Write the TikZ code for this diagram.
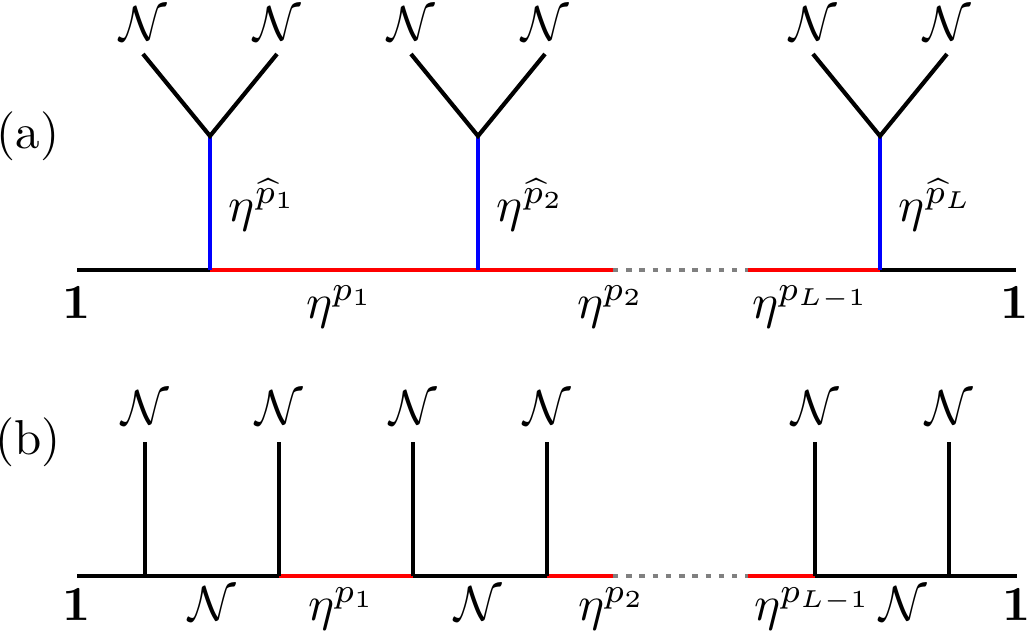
\documentclass[tikz,border=0pt]{standalone}
\usepackage{amsmath,amssymb}
\begin{document}
\begin{tikzpicture}[x=0.2041pt,y=-0.2041pt,
  ln/.style={line width=0.85pt},
  blk/.style={ln,black},
  redl/.style={ln,red},
  bluel/.style={ln,blue},
  dotl/.style={ln,gray,dash pattern=on 1.1pt off 1.6pt},
  lab/.style={inner sep=0pt,anchor=base}]
\useasboundingbox (0,0) rectangle (1027,640);

% ---------- (a) ----------
\node[lab] (la) at (28,148) {(a)};
\coordinate (a0) at (77,270);
\coordinate (a1) at (210,270);
\coordinate (a2) at (478,270);
\coordinate (a3) at (613,270);
\coordinate (a4) at (748,270);
\coordinate (a5) at (880,270);
\coordinate (a6) at (1016,270);
\coordinate (v1) at (210,136);
\coordinate (v2) at (478,136);
\coordinate (v3) at (880,136);
\coordinate (l1) at (143,54);
\coordinate (r1) at (277,54);
\coordinate (l2) at (411,54);
\coordinate (r2) at (545,54);
\coordinate (l3) at (813,54);
\coordinate (r3) at (947,54);

\draw[blk] (a0) -- (a1);
\draw[redl] (a1) -- (a2);
\draw[redl] (a2) -- (a3);
\draw[dotl] (a3) -- (a4);
\draw[redl] (a4) -- (a5);
\draw[blk] (a5) -- (a6);
\draw[bluel] (a1) -- (v1);
\draw[bluel] (a2) -- (v2);
\draw[bluel] (a5) -- (v3);
\draw[blk] (l1) -- (v1) -- (r1);
\draw[blk] (l2) -- (v2) -- (r2);
\draw[blk] (l3) -- (v3) -- (r3);

\node[lab] (nl1) at (143,40) {$\mathcal{N}$};
\node[lab] (nr1) at (277,40) {$\mathcal{N}$};
\node[lab] (nl2) at (411,40) {$\mathcal{N}$};
\node[lab] (nr2) at (545,40) {$\mathcal{N}$};
\node[lab] (nl3) at (813,40) {$\mathcal{N}$};
\node[lab] (nr3) at (947,40) {$\mathcal{N}$};

\node[inner sep=0pt,anchor=base west] (h1) at (228,221) {$\eta^{\widehat{p}_1}$};
\node[inner sep=0pt,anchor=base west] (h2) at (496,221) {$\eta^{\widehat{p}_2}$};
\node[inner sep=0pt,anchor=base west] (h3) at (898,221) {$\eta^{\widehat{p}_L}$};

\node[lab] (one1) at (77,318) {$\mathbf{1}$};
\node[lab] (e1) at (340,318) {$\eta^{p_1}$};
\node[lab] (e2) at (611,318) {$\eta^{p_2}$};
\node[lab] (e3) at (811,318) {$\eta^{p_{L-1}}$};
\node[lab] (one2) at (1015,318) {$\mathbf{1}$};

% ---------- (b) ----------
\node[lab] (lb) at (28,454) {(b)};
\coordinate (b0) at (77,576);
\coordinate (b1) at (145,576);
\coordinate (b2) at (279,576);
\coordinate (b3) at (413,576);
\coordinate (b4) at (547,576);
\coordinate (b5) at (613,576);
\coordinate (b6) at (748,576);
\coordinate (b7) at (815,576);
\coordinate (b8) at (949,576);
\coordinate (b9) at (1017,576);
\coordinate (t1) at (145,442);
\coordinate (t2) at (279,442);
\coordinate (t3) at (413,442);
\coordinate (t4) at (547,442);
\coordinate (t7) at (815,442);
\coordinate (t8) at (949,442);

\draw[blk] (b0) -- (b1) -- (b2);
\draw[redl] (b2) -- (b3);
\draw[blk] (b3) -- (b4);
\draw[redl] (b4) -- (b5);
\draw[dotl] (b5) -- (b6);
\draw[redl] (b6) -- (b7);
\draw[blk] (b7) -- (b8) -- (b9);
\foreach \i in {1,2,3,4,7,8} \draw[blk] (b\i) -- (t\i);

\node[lab] (tn1) at (145,424) {$\mathcal{N}$};
\node[lab] (tn2) at (279,424) {$\mathcal{N}$};
\node[lab] (tn3) at (413,424) {$\mathcal{N}$};
\node[lab] (tn4) at (547,424) {$\mathcal{N}$};
\node[lab] (tn7) at (815,424) {$\mathcal{N}$};
\node[lab] (tn8) at (949,424) {$\mathcal{N}$};

\node[lab] (bone1) at (77,620) {$\mathbf{1}$};
\node[lab] (bn1) at (212,620) {$\mathcal{N}$};
\node[lab] (be1) at (342,620) {$\eta^{p_1}$};
\node[lab] (bn2) at (478,620) {$\mathcal{N}$};
\node[lab] (be2) at (612,620) {$\eta^{p_2}$};
\node[lab] (be3) at (813,620) {$\eta^{p_{L-1}}$};
\node[lab] (bn3) at (903,620) {$\mathcal{N}$};
\node[lab] (bone2) at (1017,620) {$\mathbf{1}$};
\end{tikzpicture}
\end{document}
